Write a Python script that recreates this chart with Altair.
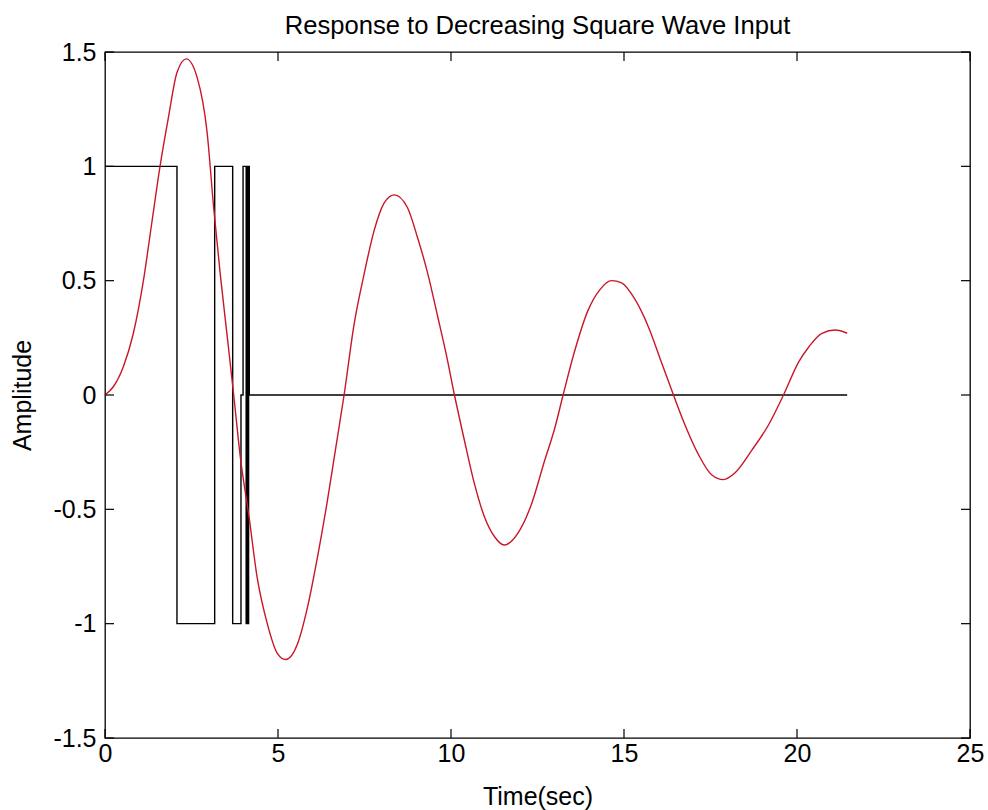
import altair as alt
import pandas as pd

# ---- data ----
t_resp = [0, 0.24, 0.53, 0.82, 1.11, 1.35, 1.59, 1.84, 2.08, 2.35, 2.66, 2.95, 3.14, 3.33, 3.53, 3.72,
          3.91, 4.16, 4.40, 4.69, 4.98, 5.22, 5.56, 5.85, 6.14, 6.43, 6.67, 6.91,
          7.20, 7.49, 7.78, 8.07, 8.36, 8.74, 9.03, 9.33, 9.62, 9.86, 10.10,
          10.39, 10.68, 10.96, 11.26, 11.54, 11.93, 12.32, 12.70, 12.99, 13.24,
          13.57, 13.96, 14.30, 14.64, 14.93, 15.31, 15.70, 16.09, 16.43,
          16.76, 17.15, 17.54, 17.87, 18.21, 18.70, 19.18, 19.61,
          20.05, 20.34, 20.72, 21.11, 21.45]
y_resp = [0, 0.036, 0.124, 0.27, 0.50, 0.75, 1.0, 1.22, 1.41, 1.47, 1.39, 1.15, 0.82, 0.53, 0.26, 0,
          -0.27, -0.53, -0.80, -1.0, -1.13, -1.157, -1.09, -0.93, -0.71, -0.46, -0.23, 0,
          0.31, 0.53, 0.72, 0.84, 0.875, 0.82, 0.69, 0.53, 0.34, 0.18, 0,
          -0.20, -0.39, -0.53, -0.62, -0.656, -0.605, -0.48, -0.29, -0.15, 0,
          0.19, 0.37, 0.46, 0.50, 0.49, 0.42, 0.30, 0.14, 0,
          -0.13, -0.26, -0.35, -0.37, -0.34, -0.24, -0.13, 0,
          0.145, 0.21, 0.27, 0.284, 0.27]

t_in = [0, 2.08, 2.08, 3.17, 3.17, 3.69, 3.69, 3.93, 3.93, 3.99, 3.99, 4.08, 4.08, 4.11, 4.11,
        4.13, 4.13, 4.15, 4.15, 4.17, 4.17, 21.45]
u_in = [1, 1, -1, -1, 1, 1, -1, -1, 0, 0, 1, 1, -1, -1, 1,
        1, -1, -1, 1, 1, 0, 0]

x_ticks = [0, 5, 10, 15, 20, 25]
y_ticks = [-1.5, -1, -0.5, 0, 0.5, 1, 1.5]

W, H = 865, 686
TL = 9
FONT = "Liberation Sans"
FS = 25

resp = pd.DataFrame({"t": t_resp, "y": y_resp, "i": list(range(len(t_resp)))})
inp = pd.DataFrame({"t": t_in, "y": u_in, "i": list(range(len(t_in)))})
xt = pd.DataFrame({"t": x_ticks})
yt = pd.DataFrame({"y": y_ticks})

xscale = alt.Scale(domain=[0, 25], nice=False, zero=False)
yscale = alt.Scale(domain=[-1.5, 1.5], nice=False, zero=False)

xaxis = alt.Axis(values=x_ticks, title="Time(sec)", labelExpr="datum.value + ''",
                 labelFont=FONT, labelFontSize=FS, labelColor="black", labelPadding=3,
                 labelFlush=False, labelOverlap=False,
                 ticks=False, domain=False, grid=False,
                 titleFont=FONT, titleFontSize=FS, titleFontWeight="normal", titleColor="black",
                 titleY=58, titleBaseline="middle")
yaxis = alt.Axis(values=y_ticks, title="Amplitude", labelExpr="datum.value + ''",
                 labelFont=FONT, labelFontSize=FS, labelColor="black", labelPadding=9,
                 labelFlush=False, labelOverlap=False,
                 ticks=False, domain=False, grid=False,
                 titleFont=FONT, titleFontSize=FS, titleFontWeight="normal", titleColor="black",
                 titleX=-83, titleY=H / 2, titleBaseline="middle", titleAngle=-90)

X = alt.X("t:Q", scale=xscale, axis=xaxis)
Y = alt.Y("y:Q", scale=yscale, axis=yaxis)

inp_line = alt.Chart(inp).mark_line(color="black", strokeWidth=1.4).encode(
    x=X, y=Y, order="i:Q")
resp_line = alt.Chart(resp).mark_line(color="#c8162a", strokeWidth=1.4, interpolate="monotone").encode(
    x=X, y=Y, order="i:Q")

tick_bottom = alt.Chart(xt).mark_rule(color="black", strokeWidth=1.2).encode(
    x=X, y=alt.value(H), y2=alt.value(H - TL))
tick_top = alt.Chart(xt).mark_rule(color="black", strokeWidth=1.2).encode(
    x=X, y=alt.value(0), y2=alt.value(TL))
tick_left = alt.Chart(yt).mark_rule(color="black", strokeWidth=1.2).encode(
    y=Y, x=alt.value(0), x2=alt.value(TL))
tick_right = alt.Chart(yt).mark_rule(color="black", strokeWidth=1.2).encode(
    y=Y, x=alt.value(W), x2=alt.value(W - TL))

chart = alt.layer(inp_line, resp_line, tick_bottom, tick_top, tick_left, tick_right).properties(
    width=W, height=H,
    title=alt.TitleParams("Response to Decreasing Square Wave Input", font=FONT, fontSize=25.6,
                          fontWeight="normal", color="black", anchor="middle",
                          baseline="alphabetic", offset=7, dy=27),
    autosize=alt.AutoSizeParams(type="none"),
    padding={"left": 105, "top": 52, "right": 18, "bottom": 72},
    background="white",
).configure_view(stroke="black", strokeWidth=1.3)

chart.save("out.html", embed_options={"renderer": "svg", "actions": False})
